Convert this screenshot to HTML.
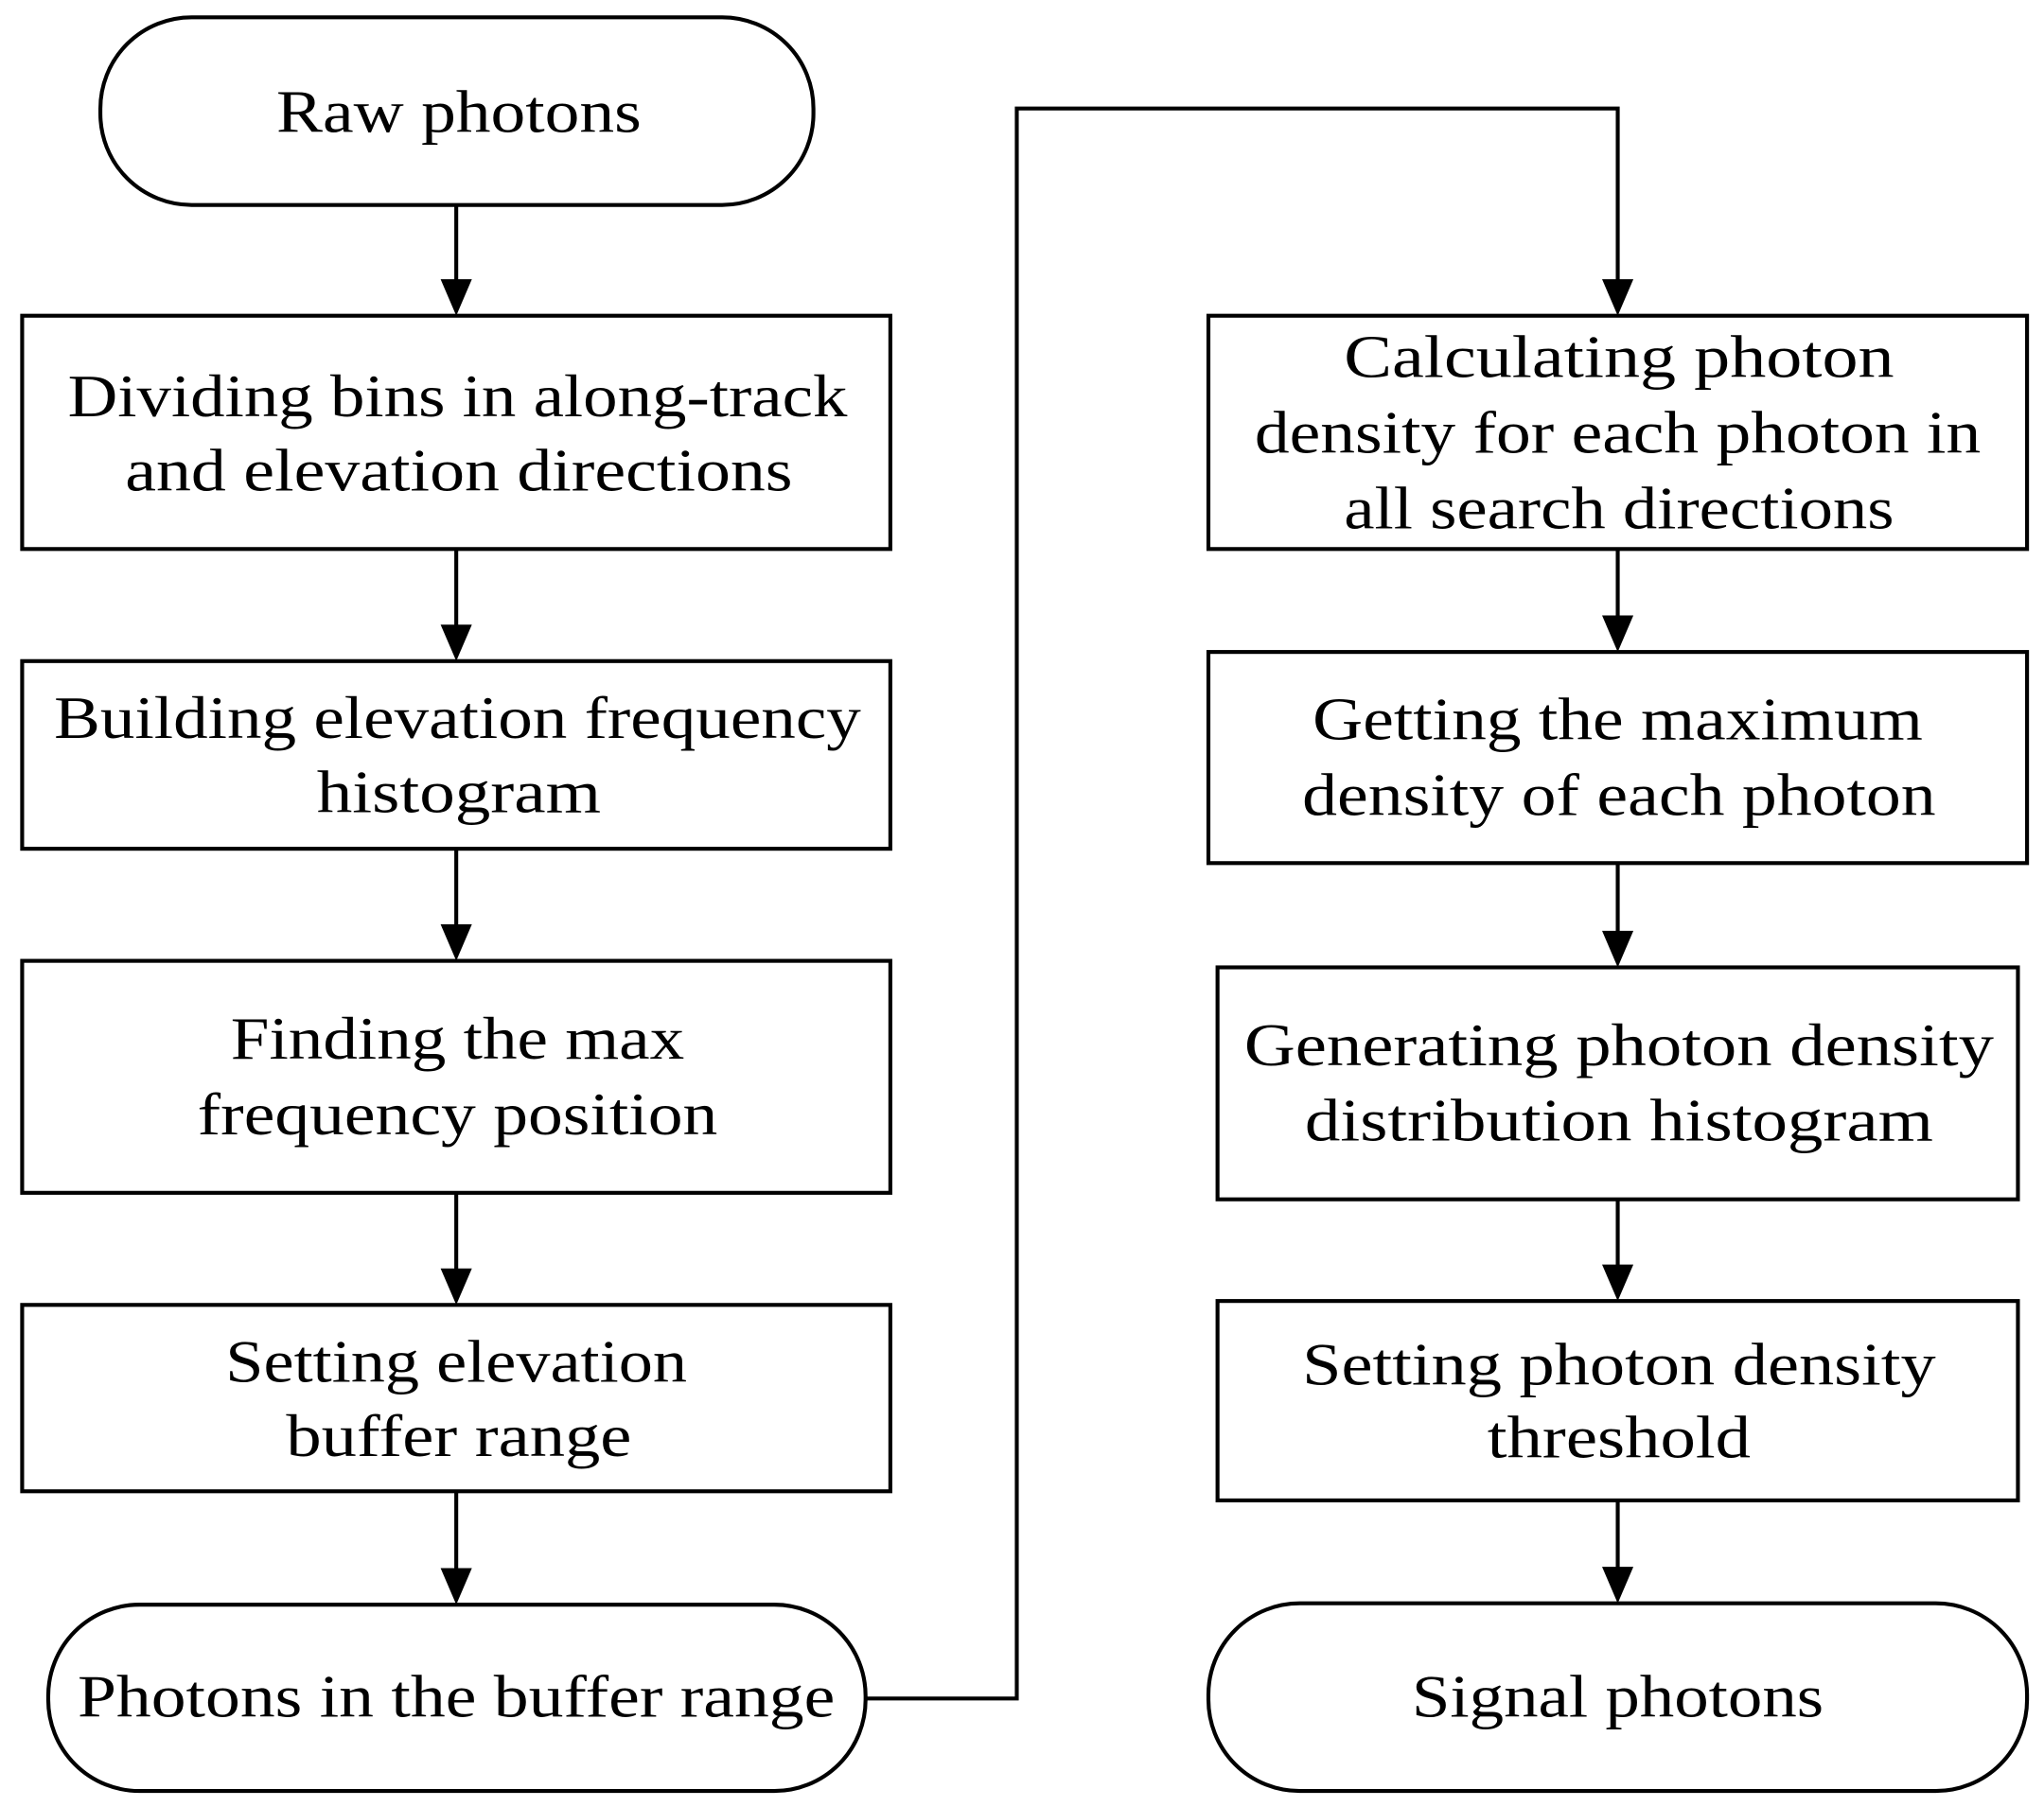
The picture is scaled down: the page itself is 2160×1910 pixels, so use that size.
<!DOCTYPE html>
<html><head><meta charset="utf-8"><style>
html,body{margin:0;padding:0;background:#fff;}
svg{display:block;}
text{font-family:"Liberation Serif",serif;font-size:46px;fill:#000;text-anchor:middle;}
</style></head><body>
<svg width="2160" height="1910" viewBox="0 0 1568 1386" xmlns="http://www.w3.org/2000/svg">
<defs><marker id="a" markerWidth="10" markerHeight="10" refX="9" refY="5" orient="auto" markerUnits="userSpaceOnUse" viewBox="0 0 10 10"><path d="M0,0 L10,5 L0,10 z" fill="#000"/></marker>
<marker id="b" viewBox="0 0 20 28" refX="20" refY="14" markerWidth="28" markerHeight="20" orient="auto" markerUnits="userSpaceOnUse"><path d="M0,0 L28,14 L0,28z" fill="#000"/></marker></defs>
<g fill="none" stroke="#000" stroke-width="3">
<rect x="77" y="13" width="547" height="144" rx="70"/>
<rect x="17" y="242" width="666" height="179"/>
<rect x="17" y="507" width="666" height="144"/>
<rect x="17" y="737" width="666" height="178"/>
<rect x="17" y="1001" width="666" height="143"/>
<rect x="37" y="1231" width="627" height="143" rx="70"/>
<rect x="927" y="242" width="628" height="179"/>
<rect x="927" y="500" width="628" height="162"/>
<rect x="934" y="742" width="614" height="178"/>
<rect x="934" y="998" width="614" height="153"/>
<rect x="927" y="1230" width="628" height="144" rx="70"/>
<path d="M664 1303 H780 V83 H1241 V220"/>
<path d="M350 157 V220 M350 421 V485 M350 651 V715 M350 915 V979 M350 1144 V1209 M1241 421 V478 M1241 662 V720 M1241 920 V976 M1241 1151 V1208"/>
</g>
<g fill="#000">
<path d="M338 214 L362 214 L350 242z"/><path d="M338 479 L362 479 L350 507z"/><path d="M338 709 L362 709 L350 737z"/><path d="M338 973 L362 973 L350 1001z"/><path d="M338 1203 L362 1203 L350 1231z"/>
<path d="M1229 214 L1253 214 L1241 242z"/><path d="M1229 472 L1253 472 L1241 500z"/><path d="M1229 714 L1253 714 L1241 742z"/><path d="M1229 970 L1253 970 L1241 998z"/><path d="M1229 1202 L1253 1202 L1241 1230z"/>
</g>
<g lengthAdjust="spacingAndGlyphs">
<text x="352" y="101" textLength="280" lengthAdjust="spacingAndGlyphs">Raw photons</text>
<text x="351" y="319" textLength="598" lengthAdjust="spacingAndGlyphs">Dividing bins in along-track</text>
<text x="352" y="376" textLength="512" lengthAdjust="spacingAndGlyphs">and elevation directions</text>
<text x="351" y="566" textLength="619" lengthAdjust="spacingAndGlyphs">Building elevation frequency</text>
<text x="352" y="623" textLength="218" lengthAdjust="spacingAndGlyphs">histogram</text>
<text x="351" y="812" textLength="348" lengthAdjust="spacingAndGlyphs">Finding the max</text>
<text x="351" y="870" textLength="399" lengthAdjust="spacingAndGlyphs">frequency position</text>
<text x="350" y="1060" textLength="354" lengthAdjust="spacingAndGlyphs">Setting elevation</text>
<text x="352" y="1117" textLength="265" lengthAdjust="spacingAndGlyphs">buffer range</text>
<text x="350" y="1317" textLength="581" lengthAdjust="spacingAndGlyphs">Photons in the buffer range</text>
<text x="1242" y="289" textLength="422" lengthAdjust="spacingAndGlyphs">Calculating  photon</text>
<text x="1241" y="347" textLength="557" lengthAdjust="spacingAndGlyphs">density for each photon in</text>
<text x="1242" y="405" textLength="422" lengthAdjust="spacingAndGlyphs">all search directions</text>
<text x="1241" y="567" textLength="468" lengthAdjust="spacingAndGlyphs">Getting the maximum</text>
<text x="1242" y="625" textLength="486" lengthAdjust="spacingAndGlyphs">density of each photon</text>
<text x="1242" y="817" textLength="575" lengthAdjust="spacingAndGlyphs">Generating photon density</text>
<text x="1242" y="875" textLength="482" lengthAdjust="spacingAndGlyphs">distribution histogram</text>
<text x="1242" y="1062" textLength="486" lengthAdjust="spacingAndGlyphs">Setting photon density</text>
<text x="1242" y="1118" textLength="202" lengthAdjust="spacingAndGlyphs">threshold</text>
<text x="1241" y="1317" textLength="316" lengthAdjust="spacingAndGlyphs">Signal photons</text>
</g>
</svg>
</body></html>
